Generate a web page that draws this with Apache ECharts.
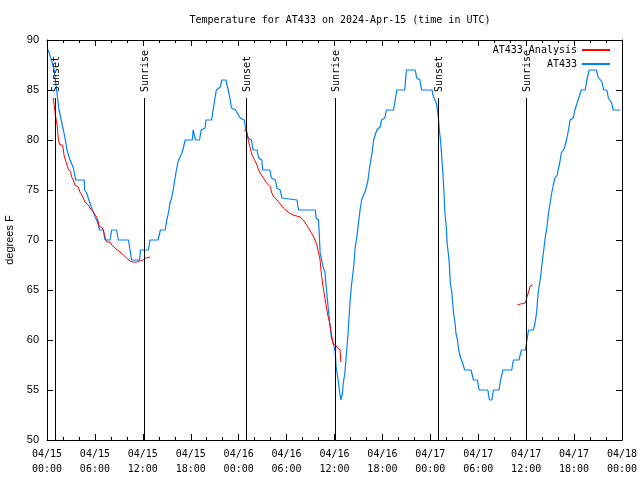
<!DOCTYPE html>
<html>
<head>
<meta charset="utf-8">
<script src="https://cdn.jsdelivr.net/npm/echarts@6/dist/echarts.min.js"></script>
<style>html,body{margin:0;padding:0;background:#fff}#c{width:640px;height:480px}</style>
</head>
<body>
<div id="c"></div>
<script>
// Hours since 2024-04-15 00:00 UTC, temperature in °F
const stationData = [[0.15,89],[0.35,88.5],[0.55,88],[0.8,88],[0.9,87],[1.05,86],[1.2,85],[1.3,84.3],[1.5,83],[1.7,82.3],[2.05,81],[2.3,80],[2.5,79],[2.8,78.2],[3.3,77.2],[3.6,76],[4.67,76],[4.7,75],[4.97,74.7],[5.17,74.2],[5.38,74],[5.59,73.2],[5.8,72.8],[6.01,72.3],[6.22,72],[6.43,71.5],[6.55,71],[7.05,71],[7.26,70],[7.89,70],[8.1,71],[8.72,71],[8.93,70],[10.2,70],[10.4,69],[10.6,68],[11.6,68],[11.7,69],[12.7,69],[12.9,70],[13.9,70],[14.2,71],[14.8,71],[15.0,72],[15.2,72.7],[15.4,73.7],[15.6,74.2],[15.8,75],[16.0,76],[16.2,77],[16.4,77.8],[16.6,78.2],[16.9,78.7],[17.1,79.3],[17.3,80],[18.2,80],[18.3,81],[18.45,81],[18.6,80],[19.1,80],[19.3,81],[19.8,81.2],[19.9,82],[20.6,82],[20.8,83],[21.2,85],[21.7,85.3],[21.9,86],[22.4,86],[22.6,85.3],[22.8,84.6],[23.0,83.7],[23.1,83.2],[23.6,83],[24.2,82.2],[24.7,82],[24.9,81],[25.2,80.2],[25.6,80],[25.8,79],[26.3,79],[26.5,78.2],[26.9,78],[27.0,77],[27.9,77],[28.1,76.2],[28.6,76],[28.8,75.2],[29.2,75],[29.4,74.2],[31.3,74],[31.5,73],[33.6,73],[33.7,72.2],[34.0,72],[34.1,70.5],[34.2,68.7],[34.4,68],[34.6,67.2],[34.8,66.8],[35.0,65],[35.2,63.3],[35.4,61.7],[35.6,60.3],[35.9,59.5],[36.1,58.7],[36.2,57.3],[36.4,56.3],[36.5,55.7],[36.7,54.5],[36.8,54],[37.0,54.7],[37.1,55.7],[37.3,56.7],[37.5,58.7],[37.7,60.7],[37.9,63.3],[38.1,65.3],[38.4,67.3],[38.6,69.3],[38.8,70.3],[39.0,71.7],[39.2,73],[39.4,74],[39.9,75],[40.2,76],[40.4,77.3],[40.7,78.7],[40.9,80],[41.1,80.2],[41.3,81],[41.7,81.3],[41.9,82],[42.3,82.2],[42.5,83],[43.4,83],[43.6,84],[43.8,85],[44.8,85],[45.0,87],[46.1,87],[46.3,86.2],[46.7,86],[46.9,85],[48.2,85],[48.4,84.3],[48.6,84],[48.8,83.5],[49.0,82.3],[49.1,81.3],[49.3,79.7],[49.5,77.5],[49.7,75],[49.8,73],[50.0,71.3],[50.1,69.7],[50.3,68.3],[50.4,67.3],[50.5,65.7],[50.7,64.7],[50.8,63.7],[50.9,62.7],[51.1,61.7],[51.2,60.7],[51.4,60],[51.5,59.3],[51.6,58.8],[51.8,58.2],[52.0,57.8],[52.3,57],[53.1,57],[53.4,56],[53.9,56],[54.1,55],[55.2,55],[55.4,54],[55.7,54],[55.9,55],[56.6,55],[56.8,56],[57.1,57],[58.2,57],[58.4,58],[59.1,58],[59.4,59],[59.9,59],[60.1,60],[60.3,61],[60.9,61],[61.1,61.7],[61.3,62.7],[61.5,64.7],[61.8,66.3],[62.0,67.7],[62.2,69],[62.4,70.3],[62.6,71.3],[62.8,72.7],[63.0,73.7],[63.2,74.7],[63.4,75.5],[63.6,76.2],[63.9,76.5],[64.0,77],[64.2,77.7],[64.4,78.7],[64.8,79.2],[65.1,80.2],[65.3,81],[65.5,82],[65.9,82.2],[66.1,83],[66.3,83.2],[66.5,84],[66.9,85],[67.4,85],[67.6,86],[67.8,86.7],[67.9,87],[68.8,87],[69.0,86.3],[69.2,86.2],[69.5,85.8],[69.7,85],[70.1,85],[70.3,84.2],[70.5,84],[70.7,83.7],[70.9,83],[71.8,83]];

const analysisSeg1 = [[0.79,84.2],[0.95,84.2],[1.0,82.8],[1.3,81.3],[1.42,80],[1.62,79.5],[1.96,79.5],[2.13,78.5],[2.46,77.6],[2.67,77.1],[2.96,76.8],[3.09,76.3],[3.3,76],[3.5,75.5],[3.72,75.3],[3.92,75.3],[4.13,74.8],[4.34,74.5],[4.55,74.2],[4.76,73.8],[4.97,73.7],[5.17,73.5],[5.38,73.2],[5.59,73],[5.8,72.8],[6.01,72.7],[6.22,72.3],[6.43,71.8],[6.55,71.3],[6.84,71.3],[7.05,71],[7.26,70.3],[7.47,69.8],[7.89,69.8],[8.1,69.5],[8.51,69.2],[8.72,69],[9.14,68.8],[9.56,68.5],[9.97,68.2],[10.4,67.9],[10.8,67.8],[11.2,67.8],[11.6,67.9],[12.0,68],[12.4,68.2],[12.6,68.3],[12.9,68.3]];
const analysisSeg2 = [[24.7,81],[25.0,80.9],[25.2,80],[25.4,79.8],[25.6,78.7],[25.8,78.3],[26.0,78],[26.3,77.5],[26.5,77],[26.7,76.7],[27.1,76.2],[27.5,75.7],[28.0,75.3],[28.1,74.8],[28.4,74.3],[28.8,74],[29.2,73.6],[29.6,73.2],[30.2,72.8],[30.8,72.5],[31.7,72.3],[32.1,72],[32.5,71.5],[32.9,71],[33.4,70.3],[33.8,69.5],[34.0,68.7],[34.2,68],[34.3,67],[34.5,65.7],[34.7,64.7],[34.9,63.7],[35.1,62.7],[35.4,61.7],[35.6,60.7],[35.8,59.7],[36.1,59.5],[36.4,59.2],[36.7,59],[36.8,57.8]];
const analysisSeg3 = [[58.9,63.5],[59.3,63.6],[59.9,63.7],[60.1,64.3],[60.3,64.8],[60.5,65.4],[60.8,65.5]];

const sunHours = [1.0, 12.15, 24.9, 36.05, 48.95, 59.95];
const sunLabels = ['Sunset', 'Sunrise', 'Sunset', 'Sunrise', 'Sunset', 'Sunrise'];
const sunLineTop = 84.2;

const xMin = 0, xMax = 72, xStep = 6;
const yMin = 50, yMax = 90, yStep = 5;
const startDay = 15;

const analysisData = analysisSeg1.concat([[null, null]], analysisSeg2, [[null, null]], analysisSeg3);

function fmtX(v) {
  const d = startDay + Math.floor(v / 24);
  const h = v % 24;
  const p = n => String(n).padStart(2, '0');
  return '04/' + p(d) + '\n' + p(h) + ':00';
}

const mono = 'DejaVu Sans Mono';
const chart = echarts.init(document.getElementById('c'), null, {renderer: 'canvas'});
const tickCommon = {show: true, inside: true, length: 6, lineStyle: {color: '#000'}};
const minorCommon = {show: true, splitNumber: 3, length: 3, lineStyle: {color: '#000'}};
chart.setOption({
  animation: false,
  backgroundColor: '#fff',
  title: {
    text: 'Temperature for AT433 on 2024-Apr-15 (time in UTC)',
    left: 335, top: 10, textAlign: 'center',
    textStyle: {fontFamily: mono, fontSize: 10, fontWeight: 'normal', color: '#000'}
  },
  legend: {
    orient: 'vertical', right: 25, top: 40, align: 'right',
    itemWidth: 28, itemHeight: 2, itemGap: 4, icon: 'rect',
    data: ['AT433 Analysis', 'AT433'],
    textStyle: {fontFamily: mono, fontSize: 10, color: '#000', width: 86, align: 'right'}
  },
  grid: {left: 47, right: 18, top: 40, bottom: 40, containLabel: false, outerBoundsMode: 'none'},
  xAxis: [{
    type: 'value', min: xMin, max: xMax, interval: xStep, position: 'bottom',
    axisLine: {show: true, onZero: false, lineStyle: {color: '#000'}},
    axisTick: tickCommon, minorTick: minorCommon, splitLine: {show: false},
    axisLabel: {formatter: fmtX, fontFamily: mono, fontSize: 10, color: '#000', lineHeight: 15, margin: 7}
  }, {
    type: 'value', min: xMin, max: xMax, interval: xStep, position: 'top',
    axisLine: {show: true, onZero: false, lineStyle: {color: '#000'}},
    axisTick: tickCommon, minorTick: minorCommon, splitLine: {show: false},
    axisLabel: {show: false}
  }],
  yAxis: [{
    type: 'value', min: yMin, max: yMax, interval: yStep, position: 'left',
    name: 'degrees F', nameLocation: 'middle', nameGap: 31, nameRotate: 90,
    nameTextStyle: {fontFamily: 'Liberation Sans', fontSize: 11, color: '#000'},
    axisLine: {show: true, onZero: false, lineStyle: {color: '#000'}},
    axisTick: tickCommon, splitLine: {show: false},
    axisLabel: {fontFamily: 'Liberation Sans', fontSize: 11, color: '#000', margin: 8}
  }, {
    type: 'value', min: yMin, max: yMax, interval: yStep, position: 'right',
    axisLine: {show: true, onZero: false, lineStyle: {color: '#000'}},
    axisTick: tickCommon, splitLine: {show: false}, axisLabel: {show: false}
  }],
  series: [{
    name: 'AT433 Analysis', type: 'line', data: analysisData, showSymbol: false, symbol: 'none',
    connectNulls: false, lineStyle: {color: '#ff0000', width: 1}, itemStyle: {color: '#ff0000'}, z: 4
  }, {
    name: 'AT433', type: 'line', data: stationData, showSymbol: false, symbol: 'none',
    lineStyle: {color: '#0080ff', width: 1.2}, itemStyle: {color: '#0080ff'}, z: 3
  }, {
    name: 'sun', type: 'custom', z: 5,
    data: sunHours.map((h, i) => [h, sunLineTop, sunLabels[i]]),
    renderItem: function (params, api) {
      const x = api.value(0);
      const b = api.coord([x, yMin]);
      const t = api.coord([x, api.value(1)]);
      const px = Math.round(b[0]) + 0.5;
      return {
        type: 'group', children: [
          {type: 'line', shape: {x1: px, y1: b[1], x2: px, y2: Math.round(t[1])}, style: {stroke: '#000', lineWidth: 1}},
          {type: 'text', x: px + 1, y: t[1] - 6, rotation: Math.PI / 2,
           style: {text: sunLabels[params.dataIndex], font: '10px "DejaVu Sans Mono"', fill: '#000', align: 'left', verticalAlign: 'middle'}}
        ]
      };
    }
  }]
});
</script>
</body>
</html>
